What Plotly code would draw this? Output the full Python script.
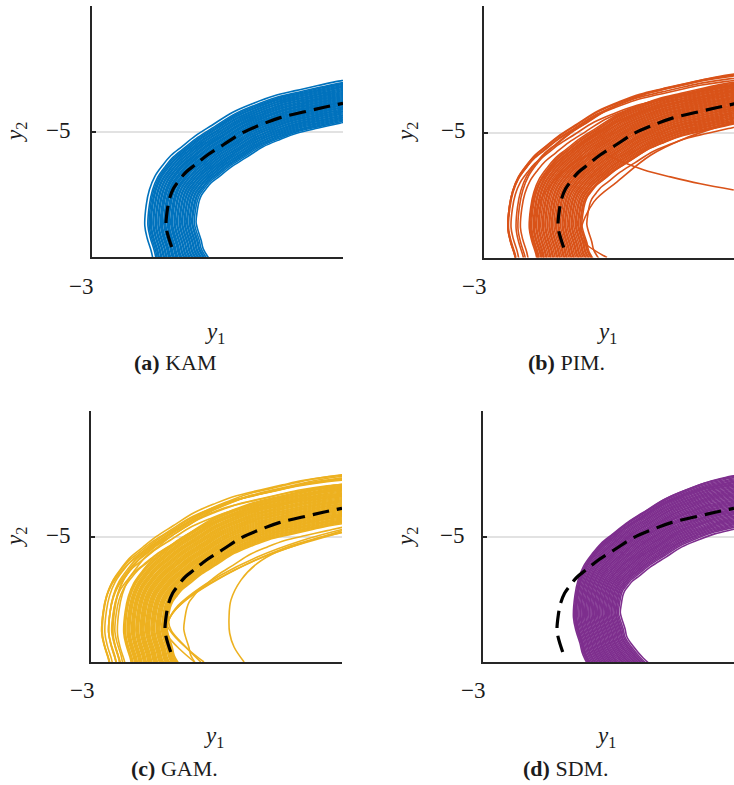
import numpy as np
import plotly.graph_objects as go

W, H = 734, 785
SERIF = "Liberation Serif"
INK = "#1c1c1c"
AXIS = "#262626"

# ---- reference orbit (drawn dashed in every panel) ----
ref_x = [-1.73, -1.79, -1.82, -1.80, -1.76, -1.70, -1.60, -1.50, -1.35, -1.15,
         -0.90, -0.60, -0.30, 0.00, 0.35, 0.70, 1.00]
ref_y = [-6.84, -6.65, -6.50, -6.25, -6.05, -5.90, -5.76, -5.64, -5.52, -5.36,
         -5.20, -5.01, -4.88, -4.77, -4.685, -4.605, -4.54]
# continuation of the same orbit outside the visible window
ref_below_x = [-1.04, -1.33, -1.54, -1.69]
ref_below_y = [-7.75, -7.50, -7.25, -7.00]
ref_beyond_x = [1.40, 1.80, 2.20]
ref_beyond_y = [-4.48, -4.44, -4.41]

# ---- sampled trajectories: normal offset d and horizontal offset dx from the orbit ----
kam_shift = (0.05, 0.03)
kam_d = [0.30, 0.285, 0.27, 0.255, 0.24, 0.225, 0.21, 0.195, 0.18, 0.165, 0.15, 0.135, 0.12,
         0.105, 0.09, 0.075, 0.06, 0.045, 0.03, 0.015, 0.00, -0.015, -0.03, -0.045, -0.06,
         -0.075, -0.09, -0.105, -0.12, -0.135, -0.15, -0.165, -0.18, -0.195, -0.21, -0.225,
         -0.24, -0.255, -0.27, 0.33, -0.29]
kam_dx = [-0.04, -0.035, -0.03, -0.03, -0.02, -0.02, -0.01, -0.01, 0.00, 0.00, 0.01, 0.01, 0.01,
          0.02, 0.02, 0.02, 0.03, 0.03, 0.03, 0.04, 0.04, 0.04, 0.05, 0.05, 0.06,
          0.06, 0.07, 0.07, 0.08, 0.08, 0.09, 0.09, 0.10, 0.10, 0.11, 0.11,
          0.12, 0.12, 0.13, -0.06, 0.14]

pim_shift = (0.0, 0.0)
pim_d = [0.32, 0.305, 0.29, 0.275, 0.26, 0.245, 0.23, 0.215, 0.20, 0.185, 0.17, 0.155, 0.14,
         0.125, 0.11, 0.095, 0.08, 0.065, 0.05, 0.035, 0.02, 0.005, -0.01, -0.025, -0.04,
         -0.055, -0.07, -0.085, -0.10, -0.115, -0.13, -0.145, -0.16, -0.175, -0.19, -0.205,
         -0.22, -0.235, -0.25, -0.265, -0.28,
         0.38, 0.40, 0.30, 0.42, 0.20, 0.44, 0.34, -0.30, -0.34, 0.25, 0.15]
pim_dx = [-0.14, -0.13, -0.13, -0.12, -0.12, -0.11, -0.11, -0.10, -0.10, -0.09, -0.08, -0.08, -0.07,
          -0.07, -0.06, -0.05, -0.05, -0.04, -0.04, -0.03, -0.02, -0.02, -0.01, -0.01, 0.00,
          0.01, 0.01, 0.02, 0.02, 0.03, 0.04, 0.04, 0.05, 0.05, 0.06, 0.07,
          0.07, 0.08, 0.08, 0.09, 0.10,
          -0.42, -0.40, -0.50, -0.25, -0.55, -0.20, -0.45, 0.06, 0.12, -0.35, -0.30]
pim_extra = [
    ([-2.05, -2.20, -2.15, -1.95, -1.65, -1.30, -1.05, -0.82, -0.45, -0.03, 0.45, 0.98],
     [-7.00, -6.60, -6.20, -5.85, -5.55, -5.35, -5.36, -5.46, -5.60, -5.71, -5.82, -5.92]),
    ([-1.04, -1.41, -1.46, -1.25, -0.88, -0.34, 0.19, 0.98],
     [-7.00, -6.75, -6.59, -6.11, -5.79, -5.36, -5.10, -4.83]),
]

gam_shift = (-0.30, 0.0)
gam_d = [0.33, 0.315, 0.30, 0.285, 0.27, 0.255, 0.24, 0.225, 0.21, 0.195, 0.18, 0.165, 0.15,
         0.135, 0.12, 0.105, 0.09, 0.075, 0.06, 0.045, 0.03, 0.015, 0.00, -0.015, -0.03,
         -0.045, -0.06, -0.075, -0.09, -0.105, -0.12, -0.135, -0.15, -0.165, -0.18, -0.195,
         -0.21, -0.225, -0.24, -0.255, -0.27, -0.285,
         0.45, 0.40, 0.30, 0.20, 0.46, 0.42, 0.36, 0.26, 0.48, 0.10, 0.15, 0.38, -0.30]
gam_dx = [-0.03, -0.03, -0.03, -0.02, -0.02, -0.02, -0.02, -0.01, -0.01, -0.01, -0.01, 0.00, 0.00,
          0.00, 0.00, 0.01, 0.01, 0.01, 0.01, 0.01, 0.02, 0.02, 0.02, 0.02, 0.02,
          0.03, 0.03, 0.03, 0.03, 0.03, 0.04, 0.04, 0.04, 0.04, 0.04, 0.05,
          0.05, 0.05, 0.05, 0.05, 0.05, 0.05,
          -0.25, -0.20, -0.30, -0.40, 0.00, -0.12, -0.35, -0.45, -0.05, -0.45, -0.35, -0.28, 0.30]
gam_extra = [
    ([-0.56, -0.72, -0.79, -0.80, -0.77, -0.61, -0.36, -0.04, 0.45, 0.97],
     [-7.00, -6.76, -6.54, -6.28, -6.01, -5.69, -5.43, -5.24, -5.08, -4.93]),
    ([-1.20, -1.45, -1.70, -1.78, -1.72, -1.50, -1.10, -0.55, 0.10, 0.60, 1.00],
     [-7.00, -6.80, -6.55, -6.42, -6.25, -6.02, -5.75, -5.45, -5.17, -5.02, -4.93]),
    ([-1.35, -1.58, -1.76, -1.80, -1.70, -1.42, -1.00, -0.40, 0.30, 1.00],
     [-7.00, -6.80, -6.60, -6.45, -6.22, -5.95, -5.68, -5.38, -5.12, -4.90]),
    ([-1.25, -1.50, -1.72, -1.76, -1.66, -1.38, -0.95, -0.35, 0.35, 1.00],
     [-7.00, -6.75, -6.50, -6.35, -6.15, -5.90, -5.62, -5.32, -5.06, -4.88]),
]

sdm_shift = (0.66, 0.25)
sdm_d = [0.40, 0.38, 0.36, 0.34, 0.32, 0.30, 0.28, 0.26, 0.24, 0.22, 0.20, 0.18, 0.16, 0.14,
         0.12, 0.10, 0.08, 0.06, 0.04, 0.02, 0.00, -0.02, -0.04, -0.06, -0.08, -0.10,
         -0.12, -0.14, -0.16, -0.18, -0.20, -0.22, -0.24, -0.26, -0.28, -0.30, -0.32,
         -0.34, -0.36, -0.38, -0.40, -0.42, -0.45, 0.42, 0.30]
sdm_dx = [0.00, 0.00, 0.00, -0.01, -0.01, -0.01, -0.01, -0.02, -0.02, -0.02, -0.02, -0.03, -0.03, -0.03,
          -0.03, -0.04, -0.04, -0.04, -0.04, -0.05, -0.05, -0.05, -0.05, -0.06, -0.06, -0.06,
          -0.06, -0.07, -0.07, -0.07, -0.07, -0.08, -0.08, -0.08, -0.08, -0.09, -0.09,
          -0.09, -0.09, -0.10, -0.10, -0.10, -0.10, 0.05, -0.08]
sdm_extra = []

# ---- layout geometry (pixels) ----
PX_PER_X = 62.75
PX_PER_Y = 62.5
panels = [
    dict(color="#0072BD", d=kam_d, dx=kam_dx, shift=kam_shift, extra=[],
         caption="<b>(a)</b> KAM", px=(92, 343), py=(6, 257),
         ylab=(16, 132), xlab=(215, 333), cap=(175, 362), ytick=(58, 131), xtick=(81, 287)),
    dict(color="#D95319", d=pim_d, dx=pim_dx, shift=pim_shift, extra=pim_extra,
         caption="<b>(b)</b> PIM.", px=(484, 734), py=(6, 257.5),
         ylab=(407, 132), xlab=(607, 333), cap=(566, 362), ytick=(453, 131), xtick=(474, 287)),
    dict(color="#EDB120", d=gam_d, dx=gam_dx, shift=gam_shift, extra=gam_extra,
         caption="<b>(c)</b> GAM.", px=(91, 342), py=(411, 662),
         ylab=(16, 537), xlab=(214, 737), cap=(174, 768), ytick=(58, 535), xtick=(82, 690)),
    dict(color="#7E2F8E", d=sdm_d, dx=sdm_dx, shift=sdm_shift, extra=sdm_extra,
         caption="<b>(d)</b> SDM.", px=(483, 734), py=(411, 662),
         ylab=(407, 537), xlab=(606, 737), cap=(566, 768), ytick=(452, 535), xtick=(473, 690)),
]
x_tick_value, x_tick_text = -3, "\u22123"
y_tick_value, y_tick_text = -5, "\u22125"

orbit_x = np.array(ref_below_x + ref_x + ref_beyond_x)
orbit_y = np.array(ref_below_y + ref_y + ref_beyond_y)
arc = np.concatenate([[0.0], np.cumsum(np.hypot(np.diff(orbit_x), np.diff(orbit_y)))])
tx = np.gradient(orbit_x, arc)
ty = np.gradient(orbit_y, arc)
tn = np.hypot(tx, ty)
nx, ny = -ty / tn, tx / tn  # outward normal of the orbit


def trajectories(ds, dxs, shift, extra):
    xs, ys = [], []
    for d, dx in zip(ds, dxs):
        xs += list(orbit_x + d * nx + dx + shift[0]) + [None]
        ys += list(orbit_y + d * ny + shift[1]) + [None]
    for ex, ey in extra:
        xs += list(ex) + [None]
        ys += list(ey) + [None]
    return xs, ys


def paper(pt):
    return pt[0] / W, 1 - pt[1] / H


fig = go.Figure()
annotations = []
layout = {}


def note(pt, text, size, angle=0):
    px_, py_ = paper(pt)
    annotations.append(dict(x=px_, y=py_, xref="paper", yref="paper", text=text,
                            textangle=angle, showarrow=False,
                            xanchor="center", yanchor="middle",
                            font=dict(family=SERIF, size=size, color=INK)))


for i, p in enumerate(panels):
    suffix = "" if i == 0 else str(i + 1)
    xa, ya = "x" + suffix, "y" + suffix
    bx, by = trajectories(p["d"], p["dx"], p["shift"], p["extra"])
    fig.add_trace(go.Scatter(x=bx, y=by, mode="lines", xaxis=xa, yaxis=ya,
                             line=dict(color=p["color"], width=1.6, shape="spline", smoothing=1),
                             hoverinfo="skip", showlegend=False))
    fig.add_trace(go.Scatter(x=ref_x, y=ref_y, mode="lines", xaxis=xa, yaxis=ya,
                             line=dict(color="black", width=3.2, dash="17px,8px",
                                       shape="spline", smoothing=1),
                             hoverinfo="skip", showlegend=False))

    x0, x1 = p["px"]
    y0, y1 = p["py"]
    layout["xaxis" + suffix] = dict(
        domain=[x0 / W, x1 / W], anchor=ya, automargin=False,
        range=[-3, -3 + (x1 - x0) / PX_PER_X],
        showline=True, linecolor=AXIS, linewidth=2.4,
        showgrid=False, zeroline=False, ticks="", showticklabels=False,
        tickvals=[x_tick_value], fixedrange=True)
    layout["yaxis" + suffix] = dict(
        domain=[1 - y1 / H, 1 - y0 / H], anchor=xa, automargin=False,
        range=[-7, -7 + (y1 - y0) / PX_PER_Y],
        showline=True, linecolor=AXIS, linewidth=2.4,
        showgrid=True, gridcolor="#e2e2e2", gridwidth=2, zeroline=False,
        ticks="inside", ticklen=4, tickwidth=2, tickcolor=AXIS, showticklabels=False,
        tickvals=[y_tick_value], fixedrange=True)

    note(p["ytick"], y_tick_text, 23)
    note(p["xtick"], x_tick_text, 23)
    note(p["ylab"], "<i>y</i><sub>2</sub>", 23, -90)
    note(p["xlab"], "<i>y</i><sub>1</sub>", 23)
    note(p["cap"], p["caption"], 22)

fig.update_layout(template="none", width=W, height=H,
                  margin=dict(l=0, r=0, t=0, b=0, pad=0, autoexpand=False),
                  paper_bgcolor="white", plot_bgcolor="white",
                  font=dict(family=SERIF, color=INK),
                  annotations=annotations, showlegend=False, **layout)

fig.write_html("out.html")
